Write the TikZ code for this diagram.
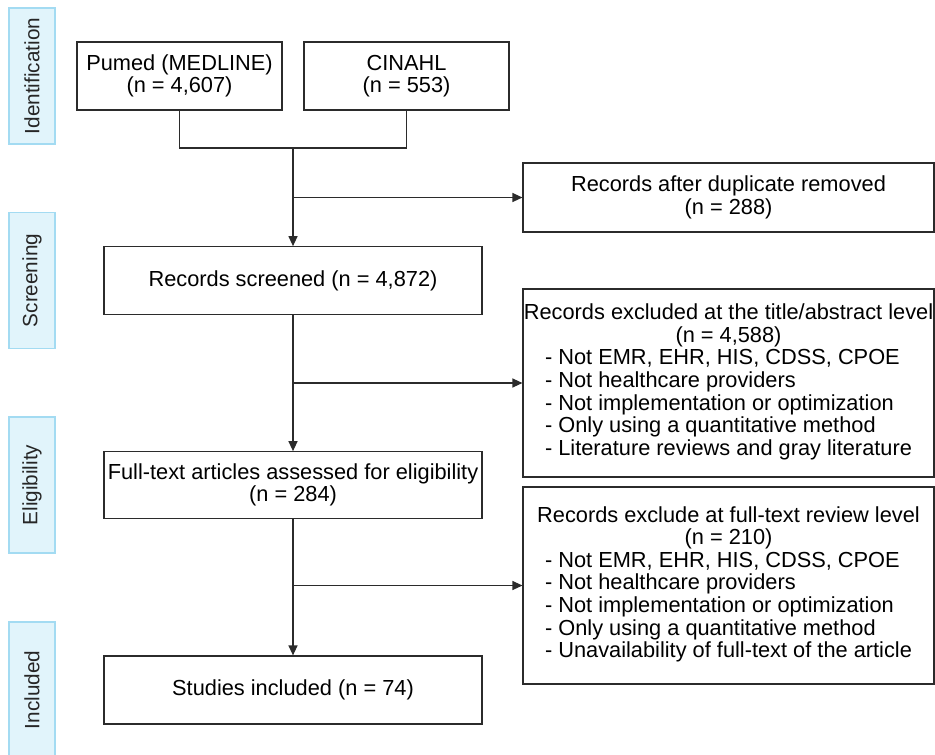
\documentclass[tikz,border=0pt]{standalone}
\usepackage{fontspec}
\setmainfont{Liberation Sans}
\usepackage{xcolor}
\usepackage{tikz}
\usetikzlibrary{arrows.meta, positioning}
\definecolor{stageFill}{HTML}{E1F4FB}
\definecolor{stageDraw}{HTML}{A3DBF2}
\definecolor{lineGray}{HTML}{2B2B2B}
\tikzstyle{block} = [
rectangle,
minimum width=7.56cm,
minimum height=1.35cm,
text centered,
align=center,
draw=lineGray,
line width=0.7pt
]
\tikzstyle{source} = [
block,
minimum width=4.1cm,
minimum height=1.36cm
]
\tikzstyle{excl} = [
block,
minimum width=8.22cm
]
\tikzstyle{stage} = [
rectangle,
minimum width=2.72cm,
minimum height=0.92cm,
text centered,
rotate=90,
draw=stageDraw,
fill=stageFill,
line width=0.9pt,
text=black!85,
font=\fontsize{11.8}{13}\selectfont
]
\tikzstyle{link} = [
line width=0.7pt,
draw=lineGray
]
\tikzstyle{arrow} = [
link,
-{Triangle[length=2mm, width=1.8mm]}
]

\begin{document}
\begin{tikzpicture}[x=0.02cm, y=-0.02cm, font=\fontsize{12.4}{12.8}\selectfont]
			
			\useasboundingbox (0,0) rectangle (935,754);
			
			% stages on the left
			\node (s1) [stage] at (32,76) {Identification};
			\node (s2) [stage] at (32,280.5) {Screening};
			\node (s3) [stage] at (32,485) {Eligibility};
			\node (s4) [stage] at (32,690) {Included};
			
			% boxes
			\node (n1) [source] at (179.5,76) {Pumed (MEDLINE)\\(n = 4,607)};
			
			\node (n2) [source] at (406.5,76) {CINAHL\\(n = 553)};
			
			\coordinate (m) at (293,148);
			
			\node (n3) [block] at (293,280.5) {Records screened (n = 4,872)};
			
			\node (n4) [excl, minimum height=1.38cm] at (728.5,197.5) {Records after duplicate removed\\(n = 288)};
			
			\node (n5) [excl, minimum height=3.76cm] at (728.5,383) {\makebox[0pt]{Records excluded at the title/abstract level}\\(n = 4,588)\\
				\begin{tabular}[t]{@{}l@{}}
					- Not EMR, EHR, HIS, CDSS, CPOE\\
					- Not healthcare providers\\
					- Not implementation or optimization\\
					- Only using a quantitative method\\
					- Literature reviews and gray literature
			\end{tabular}};
			
			\node (n6) [block, minimum height=1.33cm] at (293,485) {\makebox[0pt]{Full-text articles assessed for eligibility}\\(n = 284)};
			
			\node (n7) [excl, minimum height=3.94cm] at (728.5,585.5) {Records exclude at full-text review level\\(n = 210)\\
				\begin{tabular}[t]{@{}l@{}}
					- Not EMR, EHR, HIS, CDSS, CPOE\\
					- Not healthcare providers\\
					- Not implementation or optimization\\
					- Only using a quantitative method\\
					- Unavailability of full-text of the article
			\end{tabular}};
			
			\node (n8) [block, minimum height=1.36cm] at (293,690) {Studies included (n = 74)};
			
			% connectors
			\draw [link] (n1) -- (n1 |- m) -- (n2 |- m) -- (n2);
			\draw [arrow] (m) -- (n3);
			\draw [arrow] (n4 -| m) -- (n4);
			\draw [arrow] (n3) -- (n6);
			\draw [arrow] (n5 -| n3) -- (n5);
			\draw [arrow] (n6) -- (n8);
			\draw [arrow] (n7 -| n6) -- (n7);
			
		\end{tikzpicture}
\end{document}
